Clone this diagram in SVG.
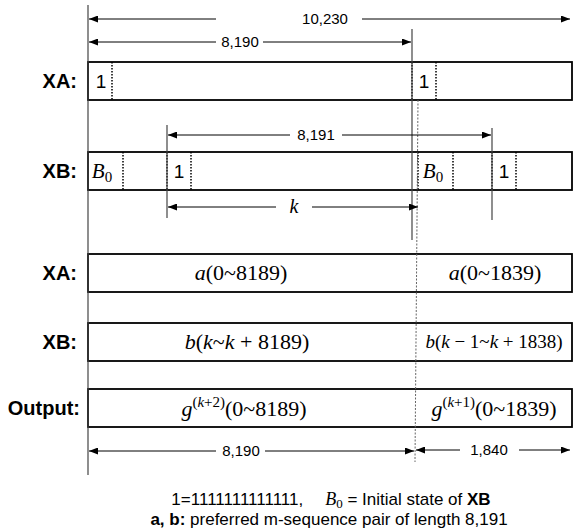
<svg xmlns="http://www.w3.org/2000/svg" width="573" height="530" viewBox="0 0 573 530">
<style>
.lbl{font-family:"Liberation Sans",Arial,sans-serif;font-weight:bold;font-size:20px;fill:#000;text-anchor:end}
.num{font-family:"Liberation Sans",Arial,sans-serif;font-size:15px;fill:#000;text-anchor:middle}
.cell{font-family:"Liberation Sans",Arial,sans-serif;font-size:19px;fill:#000}
.math{font-family:"Liberation Serif","Times New Roman",serif;font-size:22px;fill:#000;text-anchor:middle}
.it{font-style:italic}
.box{fill:#fff;stroke:#000;stroke-width:1.8}
.dot{stroke:#000;stroke-width:1.5;stroke-dasharray:1.5 1.5}
.dim{stroke:#000;stroke-width:1;fill:none}
.guide{stroke:#444;stroke-width:1.2}
.gdot{stroke:#666;stroke-width:1;stroke-dasharray:2 1.5}
.note{font-family:"Liberation Sans",Arial,sans-serif;font-size:17px;fill:#000;text-anchor:middle}
</style>
<defs>
<marker id="ah" markerWidth="9" markerHeight="7" refX="9" refY="3.5" orient="auto-start-reverse" markerUnits="userSpaceOnUse">
<path d="M0,0 L9,3.5 L0,7 z" fill="#000"/>
</marker>
</defs>

<g id="boxes">
<g id="xa1"><rect class="box" x="88" y="62" width="484" height="38"/>
<line class="dot" x1="112" y1="62" x2="112" y2="100"/><line class="dot" x1="412" y1="62" x2="412" y2="100"/><line class="dot" x1="436" y1="62" x2="436" y2="100"/>
<text class="cell" x="101" y="88" text-anchor="middle">1</text><text class="cell" x="424" y="88" text-anchor="middle">1</text></g>
<g id="xb1"><rect class="box" x="88" y="152" width="484" height="38"/>
<line class="dot" x1="123" y1="152" x2="123" y2="190"/><line class="dot" x1="167" y1="152" x2="167" y2="190"/><line class="dot" x1="191" y1="152" x2="191" y2="190"/>
<line class="dot" x1="418" y1="152" x2="418" y2="190"/><line class="dot" x1="453" y1="152" x2="453" y2="190"/><line class="dot" x1="492" y1="152" x2="492" y2="190"/><line class="dot" x1="516" y1="152" x2="516" y2="190"/>
<text class="math" x="102" y="178" style="font-size:21px"><tspan class="it">B</tspan><tspan dy="4" font-size="15">0</tspan></text>
<text class="cell" x="179" y="178" text-anchor="middle">1</text>
<text class="math" x="433" y="178" style="font-size:21px"><tspan class="it">B</tspan><tspan dy="4" font-size="15">0</tspan></text>
<text class="cell" x="504" y="178" text-anchor="middle">1</text></g>
<g id="xa2"><rect class="box" x="88" y="254" width="484" height="38"/>
<text class="math" x="241" y="280"><tspan class="it">a</tspan>(0~8189)</text>
<text class="math" x="495" y="280"><tspan class="it">a</tspan>(0~1839)</text></g>
<g id="xb2"><rect class="box" x="88" y="323" width="484" height="38"/>
<text class="math" x="247" y="349"><tspan class="it">b</tspan>(<tspan class="it">k</tspan>~<tspan class="it">k</tspan> + 8189)</text>
<text class="math" x="494" y="348" style="font-size:19px"><tspan class="it">b</tspan>(<tspan class="it">k</tspan> − 1~<tspan class="it">k</tspan> + 1838)</text></g>
<g id="out"><rect class="box" x="88" y="389" width="484" height="38"/>
<text class="math" x="244" y="416"><tspan class="it">g</tspan><tspan dy="-9" font-size="15">(<tspan class="it">k</tspan>+2)</tspan><tspan dy="9">(0~8189)</tspan></text>
<text class="math" x="494" y="416"><tspan class="it">g</tspan><tspan dy="-9" font-size="15">(<tspan class="it">k</tspan>+1)</tspan><tspan dy="9">(0~1839)</tspan></text></g>
</g>

<g id="labels">
<text class="lbl" x="77" y="88">XA:</text>
<text class="lbl" x="77" y="178">XB:</text>
<text class="lbl" x="77" y="280">XA:</text>
<text class="lbl" x="77" y="349">XB:</text>
<text class="lbl" x="80" y="415">Output:</text>
</g>

<g id="connectors">
<line class="guide" x1="88" y1="5" x2="88" y2="475"/>
<line class="guide" x1="412" y1="29" x2="412" y2="240"/>
<line class="gdot" x1="418" y1="100" x2="415" y2="462"/>
<line class="guide" x1="167" y1="125" x2="167" y2="218"/>
<line class="guide" x1="492" y1="128" x2="492" y2="220"/>
<line class="dim" x1="216" y1="19" x2="89" y2="19" marker-end="url(#ah)"/>
<line class="dim" x1="362" y1="19" x2="570" y2="19" marker-end="url(#ah)"/>
<line class="dim" x1="216" y1="42" x2="89" y2="42" marker-end="url(#ah)"/>
<line class="dim" x1="263" y1="42" x2="411" y2="42" marker-end="url(#ah)"/>
<line class="dim" x1="290" y1="135" x2="168" y2="135" marker-end="url(#ah)"/>
<line class="dim" x1="342" y1="135" x2="491" y2="135" marker-end="url(#ah)"/>
<line class="dim" x1="276" y1="207" x2="168" y2="207" marker-end="url(#ah)"/>
<line class="dim" x1="312" y1="207" x2="418" y2="207" marker-end="url(#ah)"/>
<line class="dim" x1="216" y1="451" x2="89" y2="451" marker-end="url(#ah)"/>
<line class="dim" x1="265" y1="451" x2="414" y2="451" marker-end="url(#ah)"/>
<line class="dim" x1="460" y1="450" x2="416" y2="450" marker-end="url(#ah)"/>
<line class="dim" x1="519" y1="450" x2="570" y2="450" marker-end="url(#ah)"/>
</g>

<g id="dimlabels">
<text class="num" x="325" y="24">10,230</text>
<text class="num" x="240" y="47">8,190</text>
<text class="num" x="316" y="140">8,191</text>
<text class="math" x="294" y="213" style="font-size:20px"><tspan class="it">k</tspan></text>
<text class="num" x="241" y="456">8,190</text>
<text class="num" x="489" y="455">1,840</text>
</g>

<g id="notes">
<text class="note" x="331" y="505">1=1111111111111,<tspan dx="22" font-family="Liberation Serif" font-style="italic" font-size="18">B</tspan><tspan dy="3" font-family="Liberation Serif" font-size="13">0</tspan><tspan dy="-3"> = Initial state of </tspan><tspan font-weight="bold">XB</tspan></text>
<text class="note" x="329" y="525"><tspan font-weight="bold">a, b:</tspan> preferred m-sequence pair of length 8,191</text>
</g>
</svg>
